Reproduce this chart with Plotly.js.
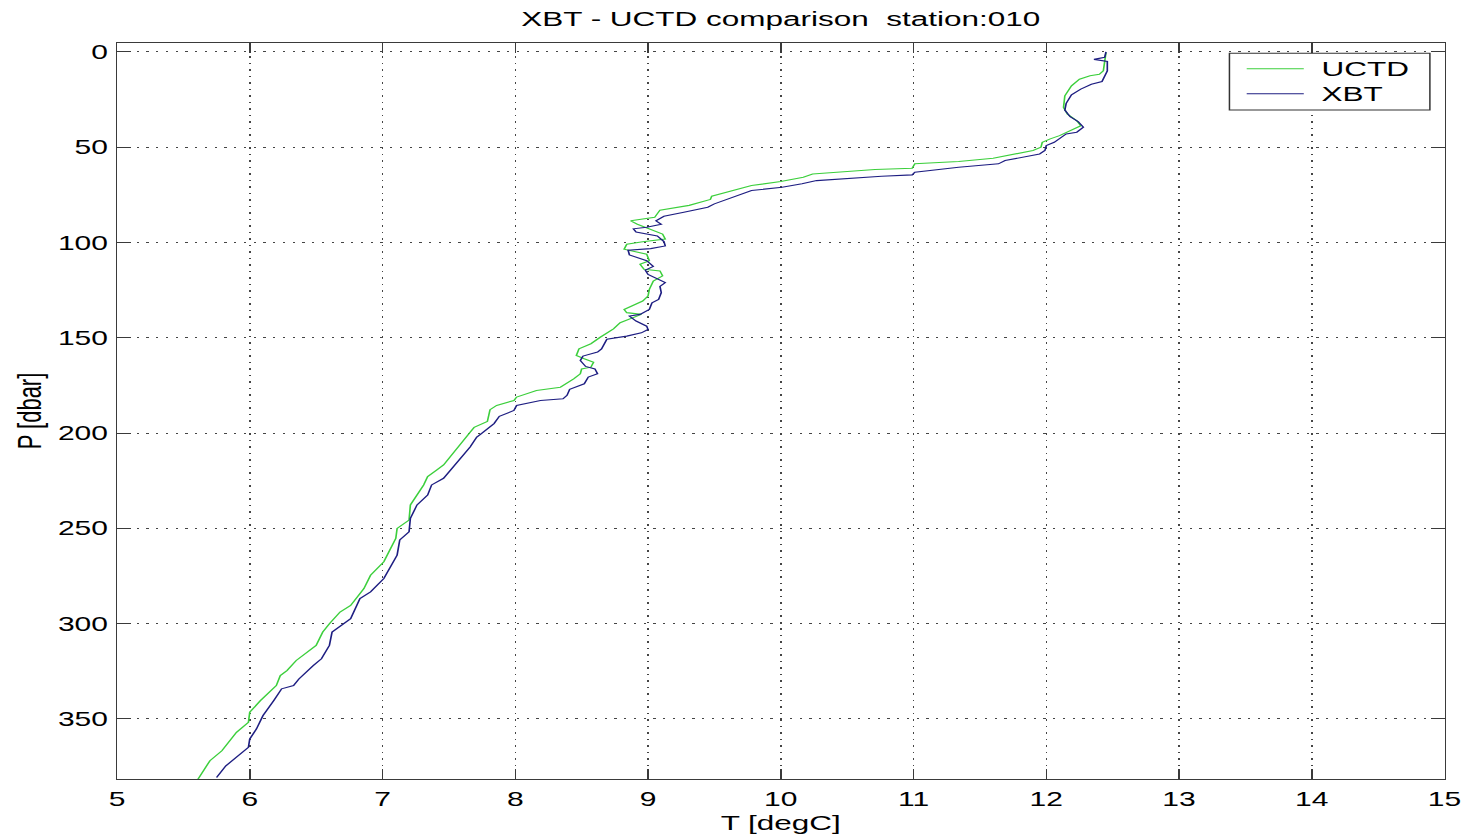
<!DOCTYPE html>
<html>
<head>
<meta charset="utf-8">
<script src="https://cdn.plot.ly/plotly-3.0.1.min.js"></script>
<style>
  html, body { margin: 0; padding: 0; background: #fff; }
  #frame { width: 1468px; height: 840px; overflow: hidden; position: relative; }
  /* the figure is laid out narrow and stretched sideways to its final width */
  #chart { position: absolute; left: 0; top: 0; transform-origin: 0 0; }
</style>
</head>
<body>
<div id="frame"><div id="chart"></div></div>
<script>
// UCTD profile: temperature [degC] and pressure [dbar]
const uctdT = [12.45, 12.44, 12.43, 12.40, 12.33, 12.25, 12.19, 12.14, 12.13, 12.16, 12.23, 12.26, 12.21, 12.15, 12.10, 12.03, 11.97, 11.96, 11.90, 11.60, 11.34, 11.01, 10.99, 10.71, 10.24, 10.17, 10.00, 9.78, 9.48, 9.47, 9.31, 9.09, 9.05, 8.87, 8.92, 9.11, 9.13, 8.96, 8.84, 8.82, 8.99, 9.01, 8.94, 8.97, 9.09, 9.11, 9.04, 9.01, 9.00, 8.96, 8.82, 8.84, 8.95, 8.79, 8.74, 8.64, 8.57, 8.48, 8.46, 8.52, 8.59, 8.57, 8.50, 8.49, 8.44, 8.34, 8.16, 8.01, 7.99, 7.86, 7.81, 7.79, 7.69, 7.66, 7.56, 7.46, 7.41, 7.34, 7.31, 7.26, 7.21, 7.20, 7.11, 7.10, 7.01, 6.91, 6.86, 6.76, 6.68, 6.60, 6.55, 6.50, 6.43, 6.35, 6.28, 6.23, 6.20, 6.08, 6.00, 5.99, 5.90, 5.79, 5.70, 5.61];
const uctdP = [0.3, 5.6, 9.9, 11.7, 12.5, 14.3, 17.8, 23.0, 29.1, 32.6, 36.1, 38.7, 40.4, 42.2, 43.9, 45.6, 47.4, 50.0, 51.7, 55.8, 57.5, 58.7, 61.0, 61.7, 64.0, 65.7, 68.0, 70.1, 75.7, 77.4, 80.5, 83.0, 86.8, 88.6, 90.4, 95.6, 98.2, 99.6, 100.9, 103.5, 106.1, 109.6, 111.4, 114.0, 114.9, 117.5, 120.2, 124.6, 128.1, 130.7, 135.1, 136.8, 137.7, 142.1, 145.3, 149.7, 153.1, 155.8, 159.3, 161.0, 162.8, 165.4, 166.3, 168.9, 171.5, 175.9, 177.6, 181.1, 182.9, 185.5, 187.7, 193.9, 197.0, 199.5, 207.9, 216.7, 219.3, 222.8, 227.2, 232.5, 237.7, 245.6, 250.0, 255.3, 267.5, 274.6, 281.6, 290.4, 293.9, 300.0, 304.4, 311.4, 314.9, 319.3, 324.6, 327.2, 332.5, 340.4, 346.5, 351.8, 357.0, 366.7, 371.9, 381.6];

// XBT profile: temperature [degC] and pressure [dbar]
const xbtT = [12.45, 12.44, 12.36, 12.46, 12.46, 12.44, 12.42, 12.34, 12.26, 12.19, 12.15, 12.14, 12.18, 12.24, 12.28, 12.23, 12.15, 12.06, 12.00, 11.99, 11.95, 11.69, 11.64, 11.34, 11.01, 10.99, 10.76, 10.27, 10.16, 10.01, 9.78, 9.50, 9.45, 9.27, 9.12, 9.06, 9.10, 8.99, 8.89, 8.91, 9.07, 9.12, 9.13, 9.02, 8.85, 8.86, 8.99, 9.04, 8.98, 9.00, 9.13, 9.09, 9.10, 9.08, 9.03, 9.01, 8.94, 8.86, 8.91, 8.99, 9.00, 8.95, 8.84, 8.69, 8.65, 8.62, 8.51, 8.49, 8.53, 8.60, 8.62, 8.55, 8.52, 8.41, 8.39, 8.36, 8.19, 8.01, 7.99, 7.88, 7.84, 7.74, 7.71, 7.66, 7.61, 7.51, 7.46, 7.37, 7.34, 7.26, 7.21, 7.20, 7.13, 7.11, 7.01, 6.91, 6.83, 6.76, 6.62, 6.60, 6.54, 6.48, 6.37, 6.33, 6.24, 6.18, 6.10, 6.05, 6.00, 5.99, 5.90, 5.82, 5.75];
const xbtP = [0.0, 2.8, 3.9, 5.0, 10.0, 13.0, 15.5, 17.0, 19.5, 22.5, 27.0, 30.5, 34.0, 36.5, 39.5, 42.1, 43.0, 47.4, 49.1, 51.7, 53.5, 57.0, 58.7, 60.5, 63.1, 64.5, 65.2, 67.5, 69.2, 71.0, 72.7, 79.7, 81.5, 84.1, 86.2, 88.6, 90.4, 92.0, 92.8, 94.5, 96.5, 99.5, 101.8, 103.2, 104.0, 106.5, 109.5, 112.5, 114.5, 116.7, 121.0, 123.0, 126.3, 129.8, 131.6, 135.1, 137.7, 138.6, 141.2, 143.9, 145.6, 147.4, 149.1, 150.8, 155.8, 157.5, 159.6, 161.9, 165.0, 166.3, 168.9, 170.6, 174.1, 177.0, 180.2, 182.0, 182.9, 185.5, 188.1, 191.2, 195.0, 200.5, 202.1, 207.3, 211.4, 219.3, 223.7, 227.2, 232.5, 237.7, 244.7, 251.8, 256.1, 264.0, 276.3, 283.3, 286.8, 297.4, 304.4, 311.4, 318.4, 321.9, 329.0, 332.5, 334.2, 340.4, 348.2, 355.3, 360.5, 364.9, 370.2, 374.6, 380.7];

const seriesNames = ['UCTD', 'XBT'];
const seriesColors = ['#3ccf3c', '#1e1e82'];
const titleText = 'XBT - UCTD comparison\u00a0\u00a0station:010';
const xTitle = 'T [degC]';
const yTitle = 'P [dbar]';

const STRETCH = 1.5;           // horizontal stretch of the finished figure
const W = 1468 / STRETCH, H = 840;
const chart = document.getElementById('chart');
chart.style.width = W + 'px';
chart.style.height = H + 'px';
chart.style.transform = 'scaleX(' + STRETCH + ')';

const font = 'Liberation Sans, Arial, Helvetica, sans-serif';

const traces = [
  { x: uctdT, y: uctdP, name: seriesNames[0], type: 'scatter', mode: 'lines',
    line: { color: seriesColors[0], width: 1.1 } },
  { x: xbtT, y: xbtP, name: seriesNames[1], type: 'scatter', mode: 'lines',
    line: { color: seriesColors[1], width: 1.1 } }
];

// boxed key in the upper right corner of the axes (paper coordinates)
const key = { x0: 0.838, x1: 0.989, y0: 0.909, y1: 0.986,
              lineX0: 0.851, lineX1: 0.894, textX: 0.905, rows: [0.965, 0.931] };
const shapes = [
  { type: 'rect', xref: 'paper', yref: 'paper', x0: key.x0, x1: key.x1, y0: key.y0, y1: key.y1,
    fillcolor: '#fff', line: { color: '#333', width: 1 }, layer: 'above' }
];
const annotations = [];
seriesNames.forEach((name, i) => {
  shapes.push({ type: 'line', xref: 'paper', yref: 'paper',
    x0: key.lineX0, x1: key.lineX1, y0: key.rows[i], y1: key.rows[i],
    line: { color: seriesColors[i], width: 1.1 }, layer: 'above' });
  annotations.push({ xref: 'paper', yref: 'paper', x: key.textX, y: key.rows[i],
    xanchor: 'left', yanchor: 'middle', showarrow: false, text: name,
    font: { family: font, size: 21, color: '#000' } });
});

const axisCommon = {
  showline: true, linecolor: '#3a3a3a', linewidth: 1,
  mirror: 'ticks', ticks: 'inside', tickcolor: '#3a3a3a', tickwidth: 1,
  showgrid: true, gridcolor: '#444', gridwidth: 1, griddash: '1.5px,5px',
  zeroline: false,
  tickfont: { family: font, size: 20, color: '#000' }
};

const layout = {
  width: W, height: H,
  margin: { l: 117 / STRETCH, r: 24 / STRETCH, t: 43, b: 61, pad: 0 },
  paper_bgcolor: '#fff', plot_bgcolor: '#fff',
  showlegend: false,
  shapes: shapes,
  annotations: annotations,
  title: { text: titleText, x: 0.5, xref: 'paper', y: 1 - 19 / H, yref: 'container',
           yanchor: 'middle', font: { family: font, size: 21, color: '#000' } },
  xaxis: Object.assign({}, axisCommon, {
    range: [5, 15], dtick: 1, tick0: 5, ticklen: 10, ticklabelstandoff: 2,
    title: { text: xTitle, standoff: 6, font: { family: font, size: 21, color: '#000' } }
  }),
  yaxis: Object.assign({}, axisCommon, {
    range: [381.5, -4.7], dtick: 50, tick0: 0, ticklen: 9, ticklabelstandoff: 1,
    title: { text: yTitle, standoff: 4, font: { family: font, size: 22, color: '#000' } }
  })
};

Plotly.newPlot(chart, traces, layout, { displayModeBar: false, staticPlot: true });
</script>
</body>
</html>
